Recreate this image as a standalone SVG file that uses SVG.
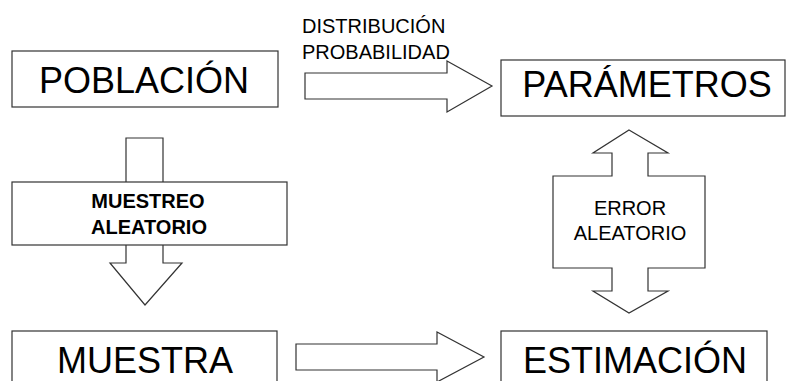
<svg xmlns="http://www.w3.org/2000/svg" width="786" height="381" viewBox="0 0 786 381">
<style>
.box{fill:#fff;stroke:#333;stroke-width:1.2}
.arr{fill:#fff;stroke:#333;stroke-width:1.2;stroke-linejoin:miter}
.big{font-family:"Liberation Sans",Arial,sans-serif;font-size:36px;fill:#000;text-anchor:middle}
.mid{font-family:"Liberation Sans",Arial,sans-serif;font-size:20px;fill:#000;text-anchor:middle}
.bold{font-family:"Liberation Sans",Arial,sans-serif;font-size:20px;font-weight:bold;fill:#000;text-anchor:middle}
.lab{font-family:"Liberation Sans",Arial,sans-serif;font-size:20px;fill:#000}
</style>
<rect width="786" height="381" fill="#fff"/>
<g id="connectors">
<path class="arr" d="M305,73 H447 V61 L492,86 L447,112 V99 H305 Z"/>
<path class="arr" d="M296,344 H437 V332 L484,357 L437,382 V370 H296 Z"/>
<path class="arr" d="M126,138 H163 V263 H182 L145,305 L110,263 H126 Z"/>
</g>
<g id="poblacion">
<rect class="box" x="12" y="51" width="266" height="56"/>
<text class="big" x="144" y="93">POBLACIÓN</text>
</g>
<g id="parametros">
<rect class="box" x="501" y="60" width="284" height="56"/>
<text class="big" x="647" y="97">PARÁMETROS</text>
</g>
<g id="muestreo">
<rect class="box" x="12" y="182" width="275" height="63"/>
<text class="bold" x="148" y="208">MUESTREO</text>
<text class="bold" x="149" y="234">ALEATORIO</text>
</g>
<g id="error">
<path class="arr" d="M629,130 L668,153 H648 V176 H705 V268 H648 V291 H668 L629,313 L593,291 H612 V268 H553 V176 H612 V153 H593 Z"/>
<text class="mid" x="630" y="215">ERROR</text>
<text class="mid" x="630" y="240">ALEATORIO</text>
</g>
<g id="muestra">
<rect class="box" x="12" y="331" width="265" height="60"/>
<text class="big" x="145" y="373">MUESTRA</text>
</g>
<g id="estimacion">
<rect class="box" x="501" y="331" width="266" height="60"/>
<text class="big" x="635" y="373">ESTIMACIÓN</text>
</g>
<g id="distribucion">
<text class="lab" x="302" y="33">DISTRIBUCIÓN</text>
<text class="lab" x="302" y="59">PROBABILIDAD</text>
</g>
</svg>
